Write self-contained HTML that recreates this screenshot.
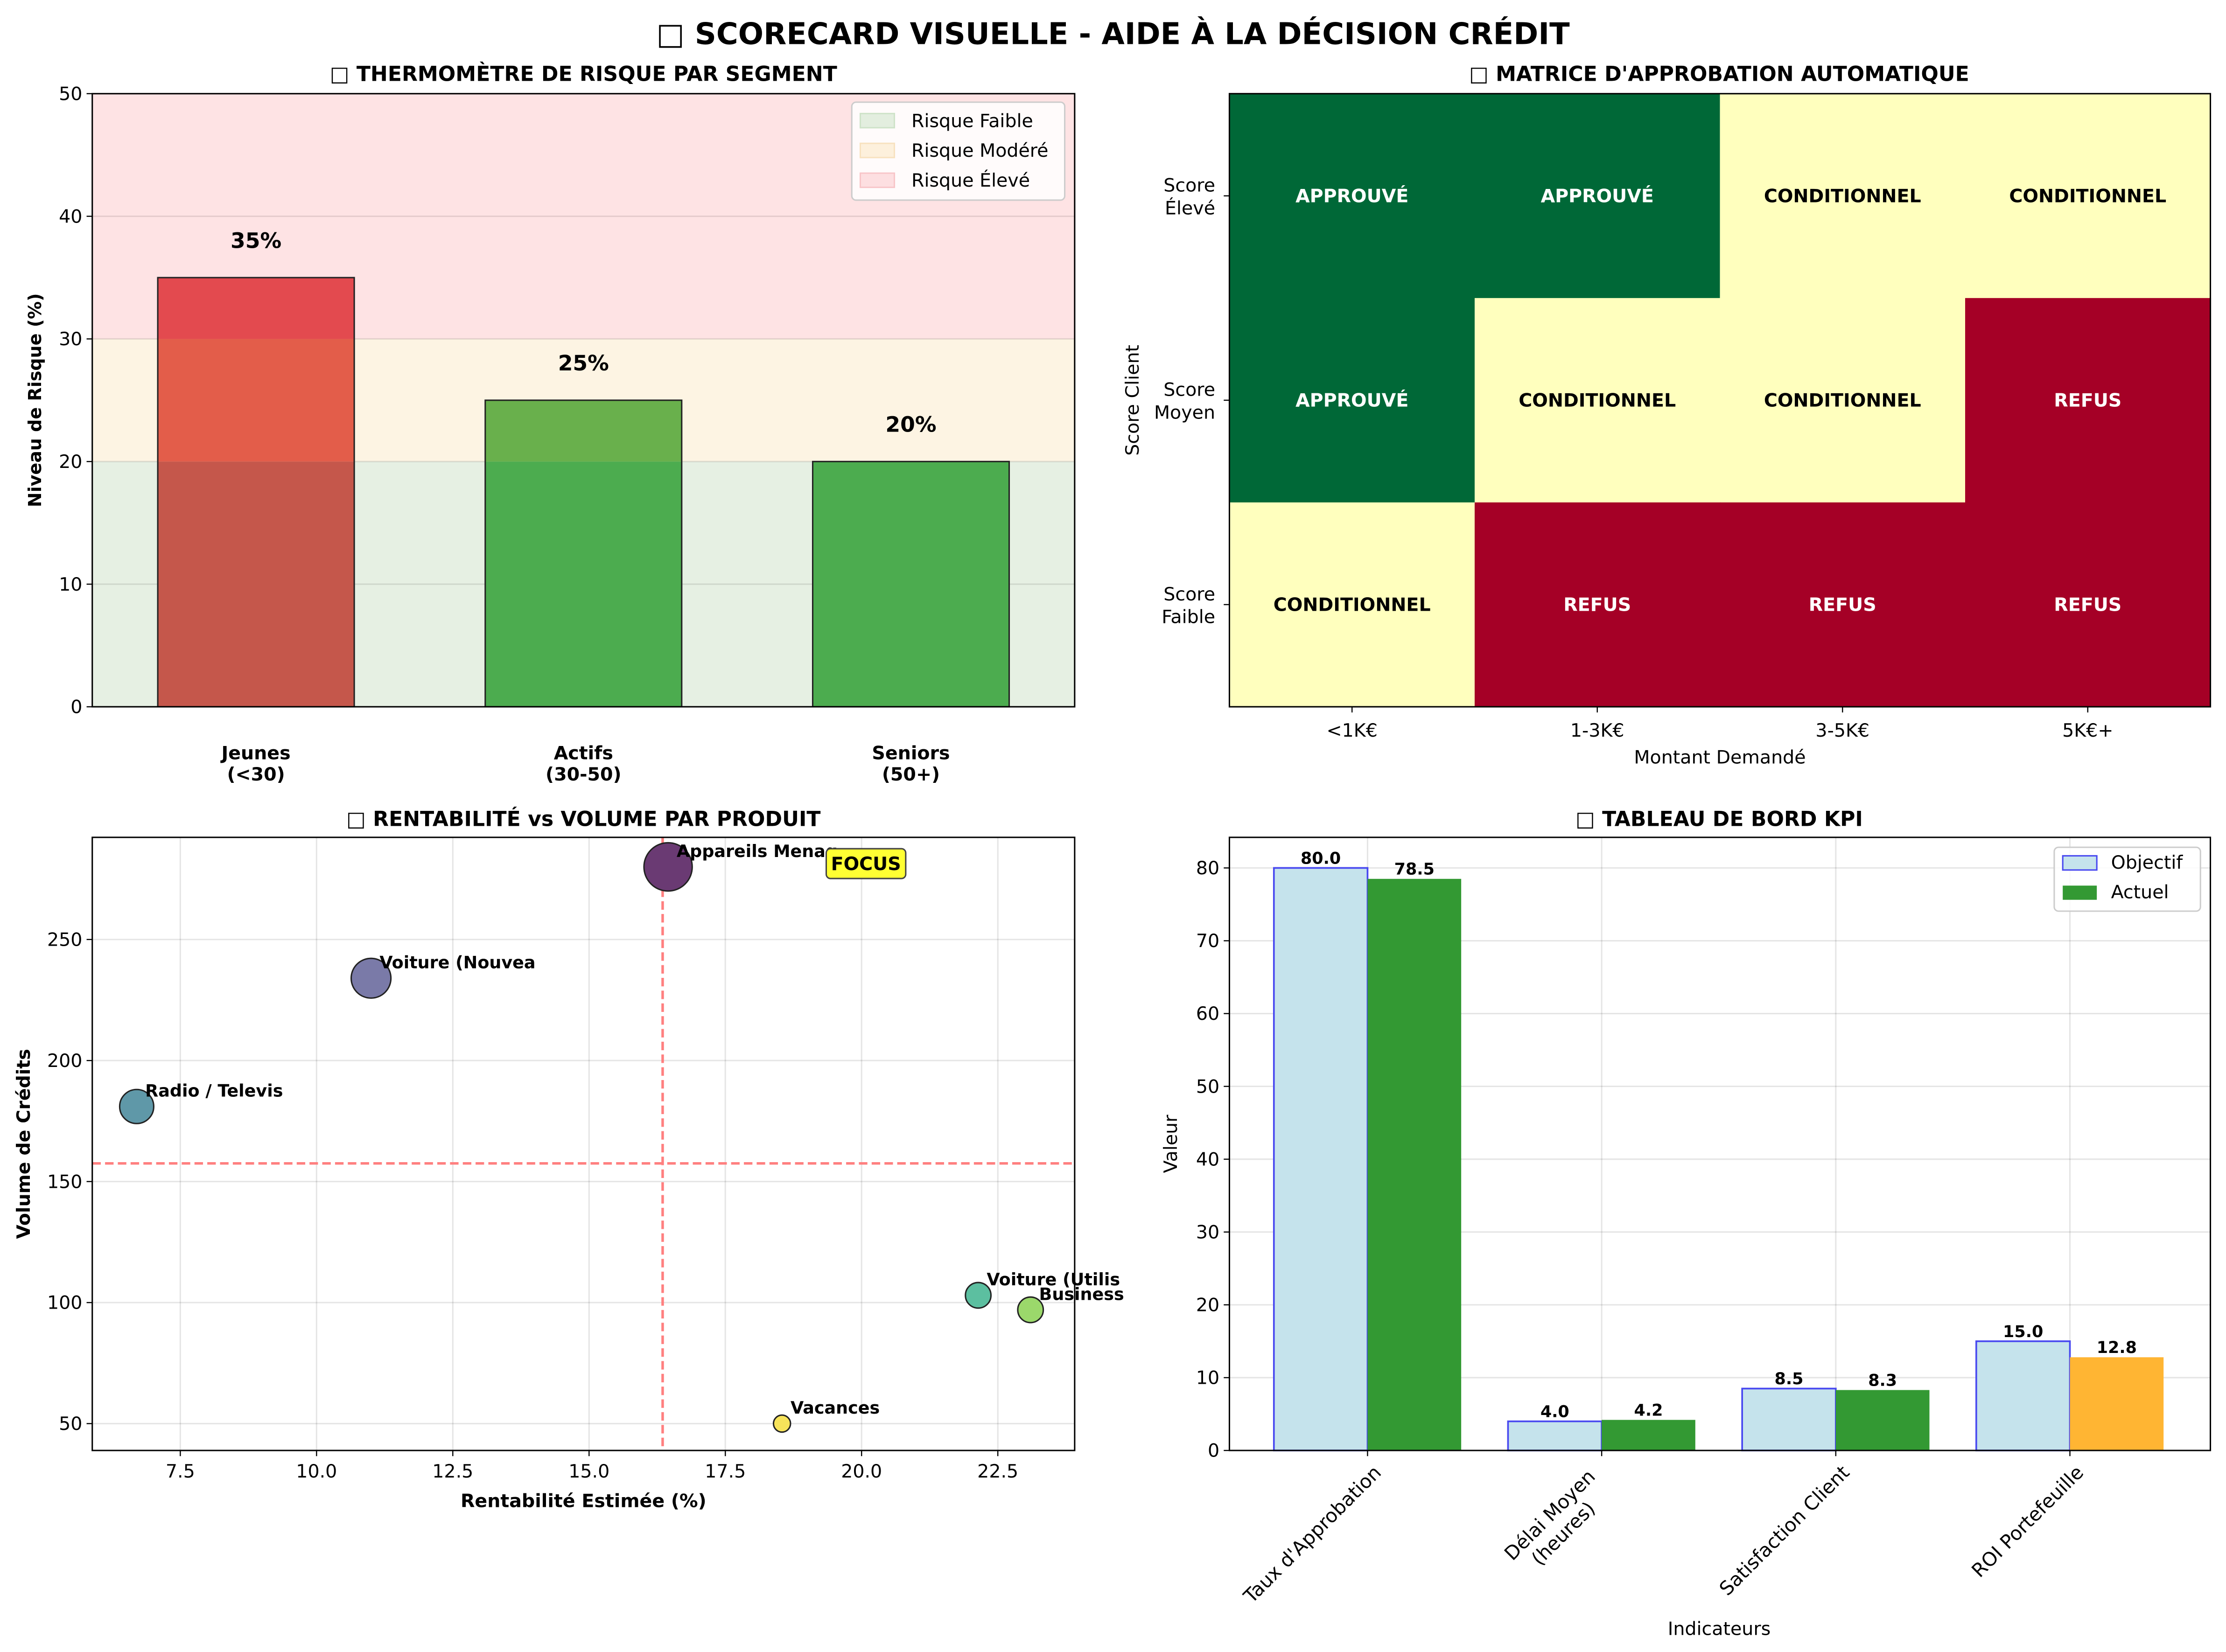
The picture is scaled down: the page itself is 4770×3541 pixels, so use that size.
<!DOCTYPE html>
<html><head><meta charset="utf-8"><style>
html,body{margin:0;padding:0;background:#fff;}
svg{display:block;}
text{font-family:"DejaVu Sans","Liberation Sans",sans-serif;}
</style></head><body>
<svg id="fig" xmlns="http://www.w3.org/2000/svg" width="4770" height="3541" viewBox="0 0 1568 1164">
<rect width="1568" height="1164" fill="#fff"/>
<text x="784" y="31" text-anchor="middle" font-size="21" font-weight="bold">□ SCORECARD VISUELLE - AIDE À LA DÉCISION CRÉDIT</text>
<g id="p1"></g>
<g id="p2"></g>
<g id="p3"></g>
<g id="p4"></g>
</svg>
<script>
// Panel 1 data
const segCategories = ["Jeunes|(<30)", "Actifs|(30-50)", "Seniors|(50+)"];
const segRisk = [35, 25, 20];
const segTicks = [0, 10, 20, 30, 40, 50];
// Panel 2 data
const matRows = ["Score|Élevé", "Score|Moyen", "Score|Faible"];
const matCols = ["<1K€", "1-3K€", "3-5K€", "5K€+"];
const matDecisions = [["APPROUVÉ","APPROUVÉ","CONDITIONNEL","CONDITIONNEL"],["APPROUVÉ","CONDITIONNEL","CONDITIONNEL","REFUS"],["CONDITIONNEL","REFUS","REFUS","REFUS"]];
// Panel 3 data
const prodNames = ["Appareils Menag", "Voiture (Nouvea", "Radio / Televis", "Voiture (Utilis", "Business", "Vacances"];
const prodProfit = [16.45, 11.0, 6.7, 22.14, 23.1, 18.54];
const prodVolume = [280, 234, 181, 103, 97, 50];
const prodSize = [17, 14, 12, 9, 9, 6];
const prodThresholdX = [16.35];
const prodThresholdY = [157.5];
const prodXTicks = [7.5, 10.0, 12.5, 15.0, 17.5, 20.0, 22.5];
const prodYTicks = [50, 100, 150, 200, 250];
// Panel 4 data
const kpiNames = ["Taux d'Approbation", "Délai Moyen|(heures)", "Satisfaction Client", "ROI Portefeuille"];
const kpiTarget = [80.0, 4.0, 8.5, 15.0];
const kpiActual = [78.5, 4.2, 8.3, 12.8];
const kpiTicks = [0, 10, 20, 30, 40, 50, 60, 70, 80];

const NS = "http://www.w3.org/2000/svg";
function mk(parent, tag, attrs, txt) {
  const e = document.createElementNS(NS, tag);
  for (const k in attrs) e.setAttribute(k, attrs[k]);
  if (txt !== undefined) e.textContent = txt;
  parent.appendChild(e);
  return e;
}
function multiText(parent, x, y, lines, attrs, lh) {
  const t = mk(parent, "text", Object.assign({x: x, y: y}, attrs));
  lines.forEach((l, i) => { mk(t, "tspan", {x: x, dy: i === 0 ? 0 : lh}, l); });
  return t;
}

// ===== Panel 1 =====
(function(){
  const g = document.getElementById("p1");
  const L=65,R=757,T=66,B=498;
  const ys = v => B - (v/50)*(B-T);
  const xs = i => L + (i+0.5)*(R-L)/3;
  const bands = [[0,20,"#e6f0e3"],[20,30,"#fdf4e3"],[30,50,"#fee3e4"]];
  bands.forEach(b => {
    const r = mk(g,"rect",{x:L,y:ys(b[1]),width:R-L,height:ys(b[0])-ys(b[1]),fill:b[2]});
    
    
  });
  segTicks.forEach(t => {
    if (t>0 && t<50) mk(g,"line",{x1:L,x2:R,y1:ys(t),y2:ys(t),stroke:"#000","stroke-opacity":0.1,"stroke-width":1});
    mk(g,"line",{x1:L-4,x2:L,y1:ys(t),y2:ys(t),stroke:"#000","stroke-width":0.8});
    const tl = mk(g,"text",{x:L-7,y:ys(t)+4.5,"text-anchor":"end","font-size":13},String(t));
    
    
  });
  const redCols = ["#c5574b","#e35d4a","#e34a4f"];
  const greenCols = ["#4cac4f","#69b04c","#69b04c"];
  const bw = 0.6*(R-L)/3;
  segRisk.forEach((v,i) => {
    const cols = v > 30 ? redCols : greenCols;
    bands.forEach((b,bi) => {
      const lo=b[0], hi=Math.min(b[1],v);
      if (hi>lo) mk(g,"rect",{x:xs(i)-bw/2,y:ys(hi),width:bw,height:ys(lo)-ys(hi),fill:cols[bi]});
    });
    const bar = mk(g,"rect",{x:xs(i)-bw/2,y:ys(v),width:bw,height:ys(0)-ys(v),fill:"none",stroke:"#222","stroke-width":1});
    
    
    const lab = mk(g,"text",{x:xs(i),y:ys(v+3)+5,"text-anchor":"middle","font-size":15,"font-weight":"bold"},v+"%");
    
    
    const cl = multiText(g,xs(i),535,segCategories[i].split("|"),{"text-anchor":"middle","font-size":13,"font-weight":"bold"},15);
    
    
  });
  mk(g,"rect",{x:L,y:T,width:R-L,height:B-T,fill:"none",stroke:"#000","stroke-width":1});
  const tt = mk(g,"text",{x:411,y:57,"text-anchor":"middle","font-size":14.5,"font-weight":"bold"},"□ THERMOMÈTRE DE RISQUE PAR SEGMENT");
  
  
  const yl = mk(g,"text",{x:0,y:0,transform:"translate(29,282) rotate(-90)","text-anchor":"middle","font-size":12.5,"font-weight":"bold"},"Niveau de Risque (%)");
  
  
  const lg = mk(g,"g",{});
  
  
  mk(lg,"rect",{x:600,y:72,width:150,height:69,rx:3,fill:"#fff","fill-opacity":0.85,stroke:"#ccc"});
  [["Risque Faible","#e3eedf","#cfe3c9"],["Risque Modéré","#fdf0dc","#f8e2c0"],["Risque Élevé","#fddfe1","#f8c6c9"]].forEach((e,i)=>{
    const y = 85+i*21;
    mk(lg,"rect",{x:606,y:y-5,width:24,height:10,fill:e[1],stroke:e[2]});
    const le = mk(lg,"text",{x:642,y:y+4.5,"font-size":13},e[0]);
    
    
  });
})();

// ===== Panel 2 =====
(function(){
  const g = document.getElementById("p2");
  const L=866,R=1557,T=66,B=498;
  const cw=(R-L)/matCols.length, rh=(B-T)/matRows.length;
  const colorOf = {"APPROUVÉ":"#006837","CONDITIONNEL":"#ffffbe","REFUS":"#a50026"};
  matDecisions.forEach((row,r)=>row.forEach((d,c)=>{
    const cell = mk(g,"rect",{x:L+c*cw,y:T+r*rh,width:cw+0.5,height:rh+0.5,fill:colorOf[d]});
    
    
    const t = mk(g,"text",{x:L+(c+0.5)*cw,y:T+(r+0.5)*rh+4.5,"text-anchor":"middle","font-size":13,"font-weight":"bold",fill:d==="CONDITIONNEL"?"#000":"#fff"},d);
    
    
  }));
  mk(g,"rect",{x:L,y:T,width:R-L,height:B-T,fill:"none",stroke:"#000","stroke-width":1});
  matRows.forEach((n,r)=>{
    const y=T+(r+0.5)*rh;
    mk(g,"line",{x1:L-4,x2:L,y1:y,y2:y,stroke:"#000","stroke-width":0.8});
    const t = multiText(g,856,y-3,n.split("|"),{"text-anchor":"end","font-size":13},16);
    
    
  });
  matCols.forEach((n,c)=>{
    const x=L+(c+0.5)*cw;
    mk(g,"line",{x1:x,x2:x,y1:B,y2:B+4,stroke:"#000","stroke-width":0.8});
    const t = mk(g,"text",{x:x,y:B+21,"text-anchor":"middle","font-size":13},n);
    
    
  });
  const xl = mk(g,"text",{x:(L+R)/2,y:538,"text-anchor":"middle","font-size":13},"Montant Demandé");
  
  
  const yl = mk(g,"text",{x:0,y:0,transform:"translate(802,282) rotate(-90)","text-anchor":"middle","font-size":13},"Score Client");
  
  
  const tt = mk(g,"text",{x:1211,y:57,"text-anchor":"middle","font-size":14.5,"font-weight":"bold"},"□ MATRICE D'APPROBATION AUTOMATIQUE");
  
  
})();

// ===== Panel 3 =====
(function(){
  const g = document.getElementById("p3");
  const L=65,R=757,T=590,B=1022;
  const x0=5.885,x1=23.91,y0=38.9,y1=292.2;
  const xs=v=>L+(v-x0)/(x1-x0)*(R-L);
  const ys=v=>B-(v-y0)/(y1-y0)*(B-T);
  prodXTicks.forEach(t=>{
    mk(g,"line",{x1:xs(t),x2:xs(t),y1:T,y2:B,stroke:"#000","stroke-opacity":0.1});
    mk(g,"line",{x1:xs(t),x2:xs(t),y1:B,y2:B+4,stroke:"#000","stroke-width":0.8});
    const tl = mk(g,"text",{x:xs(t),y:B+19,"text-anchor":"middle","font-size":13},t.toFixed(1));
    
    
  });
  prodYTicks.forEach(t=>{
    mk(g,"line",{x1:L,x2:R,y1:ys(t),y2:ys(t),stroke:"#000","stroke-opacity":0.1});
    mk(g,"line",{x1:L-4,x2:L,y1:ys(t),y2:ys(t),stroke:"#000","stroke-width":0.8});
    const tl = mk(g,"text",{x:L-7,y:ys(t)+4.5,"text-anchor":"end","font-size":13},String(t));
    
    
  });
  const vl = mk(g,"line",{x1:xs(prodThresholdX[0]),x2:xs(prodThresholdX[0]),y1:T,y2:B,stroke:"#ff7f7f","stroke-width":1.8,"stroke-dasharray":"6,3"});
  
  
  const hl = mk(g,"line",{x1:L,x2:R,y1:ys(prodThresholdY[0]),y2:ys(prodThresholdY[0]),stroke:"#ff7f7f","stroke-width":1.8,"stroke-dasharray":"6,3"});
  
  
  const colors = ["#6a3a73","#7a7aa8","#5f98a8","#5cbfa0","#9bd86b","#f7e35a"];
  prodNames.forEach((n,i)=>{
    const cx=xs(prodProfit[i]), cy=ys(prodVolume[i]);
    const c = mk(g,"circle",{cx:cx,cy:cy,r:prodSize[i],fill:colors[i],stroke:"#222","stroke-width":1});
    
    
    const t = mk(g,"text",{x:cx+6,y:cy-7,"font-size":12,"font-weight":"bold"},n);
    
    
  });
  const fb = mk(g,"g",{});
  
  
  mk(fb,"rect",{x:582,y:598,width:56,height:21,rx:3,fill:"#ffff33",stroke:"#444"});
  mk(fb,"text",{x:610,y:613,"text-anchor":"middle","font-size":13,"font-weight":"bold"},"FOCUS");
  mk(g,"rect",{x:L,y:T,width:R-L,height:B-T,fill:"none",stroke:"#000","stroke-width":1});
  const xl = mk(g,"text",{x:411,y:1062,"text-anchor":"middle","font-size":13,"font-weight":"bold"},"Rentabilité Estimée (%)");
  
  
  const yl = mk(g,"text",{x:0,y:0,transform:"translate(21,806) rotate(-90)","text-anchor":"middle","font-size":13,"font-weight":"bold"},"Volume de Crédits");
  
  
  const tt = mk(g,"text",{x:411,y:582,"text-anchor":"middle","font-size":14.5,"font-weight":"bold"},"□ RENTABILITÉ vs VOLUME PAR PRODUIT");
  
  
})();

// ===== Panel 4 =====
(function(){
  const g = document.getElementById("p4");
  const L=866,R=1557,T=590,B=1022;
  const x0=-0.59,x1=3.6,ymax=84.2;
  const xs=v=>L+(v-x0)/(x1-x0)*(R-L);
  const ys=v=>B-v/ymax*(B-T);
  const unit=(R-L)/(x1-x0), bw=0.4*unit;
  kpiTicks.forEach(t=>{
    mk(g,"line",{x1:L,x2:R,y1:ys(t),y2:ys(t),stroke:"#000","stroke-opacity":0.1});
    mk(g,"line",{x1:L-4,x2:L,y1:ys(t),y2:ys(t),stroke:"#000","stroke-width":0.8});
    const tl = mk(g,"text",{x:L-7,y:ys(t)+4.5,"text-anchor":"end","font-size":13},String(t));
    
    
  });
  kpiNames.forEach((n,i)=>{
    mk(g,"line",{x1:xs(i),x2:xs(i),y1:T,y2:B,stroke:"#000","stroke-opacity":0.1});
  });
  kpiNames.forEach((n,i)=>{
    const bt = mk(g,"rect",{x:xs(i)-bw,y:ys(kpiTarget[i]),width:bw,height:B-ys(kpiTarget[i]),fill:"#c5e3ec",stroke:"#4848f0","stroke-width":1.2});
    
    
    const good = (i===1) ? kpiActual[i] <= kpiTarget[i]*1.1 : kpiActual[i] >= kpiTarget[i]*0.9;
    const ba = mk(g,"rect",{x:xs(i),y:ys(kpiActual[i]),width:bw,height:B-ys(kpiActual[i]),fill:good?"#339933":"#ffb533"});
    
    
    const lt = mk(g,"text",{x:xs(i)-bw/2,y:ys(kpiTarget[i])-3,"text-anchor":"middle","font-size":11.5,"font-weight":"bold"},kpiTarget[i].toFixed(1));
    
    
    const la = mk(g,"text",{x:xs(i)+bw/2,y:ys(kpiActual[i])-3,"text-anchor":"middle","font-size":11.5,"font-weight":"bold"},kpiActual[i].toFixed(1));
    
    
    mk(g,"line",{x1:xs(i),x2:xs(i),y1:B,y2:B+4,stroke:"#000","stroke-width":0.8});
    const lines = n.split("|");
    const tg = mk(g,"g",{transform:"translate("+(xs(i)+4)+","+(B+10)+") rotate(-45)"});
    
    
    if (lines.length===1) {
      mk(tg,"text",{x:0,y:0,"text-anchor":"end","font-size":13.5,dy:9},lines[0]);
    } else {
      mk(tg,"text",{x:-12,y:-8,"text-anchor":"end","font-size":13.5,dy:9},lines[0]);
      mk(tg,"text",{x:-28,y:8,"text-anchor":"end","font-size":13.5,dy:9},lines[1]);
    }
  });
  mk(g,"rect",{x:L,y:T,width:R-L,height:B-T,fill:"none",stroke:"#000","stroke-width":1});
  const lg = mk(g,"g",{});
  
  
  mk(lg,"rect",{x:1447,y:597,width:103,height:45,rx:3,fill:"#fff","fill-opacity":0.85,stroke:"#ccc"});
  mk(lg,"rect",{x:1453,y:603,width:24,height:10,fill:"#c5e3ec",stroke:"#4848f0"});
  const e1 = mk(lg,"text",{x:1487,y:612,"font-size":13},"Objectif");
  
  
  mk(lg,"rect",{x:1453,y:624,width:24,height:10,fill:"#339933"});
  const e2 = mk(lg,"text",{x:1487,y:633,"font-size":13},"Actuel");
  
  
  const xl = mk(g,"text",{x:1211,y:1152,"text-anchor":"middle","font-size":13},"Indicateurs");
  
  
  const yl = mk(g,"text",{x:0,y:0,transform:"translate(829,806) rotate(-90)","text-anchor":"middle","font-size":13},"Valeur");
  
  
  const tt = mk(g,"text",{x:1211,y:582,"text-anchor":"middle","font-size":14.5,"font-weight":"bold"},"□ TABLEAU DE BORD KPI");
  
  
})();
</script>
</body></html>
